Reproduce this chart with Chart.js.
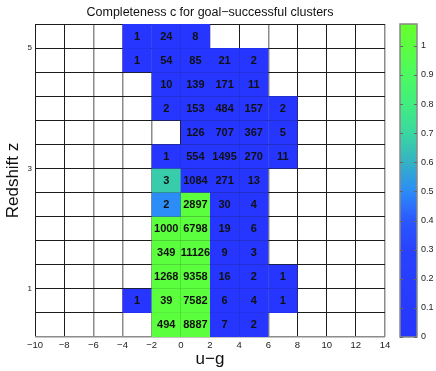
<!DOCTYPE html>
<html>
<head>
<meta charset="utf-8">
<script src="https://cdn.jsdelivr.net/npm/chart.js@4.4.1/dist/chart.umd.min.js"></script>
<style>
  html, body { margin: 0; padding: 0; background: #fff; }
  #wrap { position: relative; width: 436px; height: 371px; }
</style>
</head>
<body>
<div id="wrap"><canvas id="chart" width="436" height="371"></canvas></div>
<script>
// bin edges
const uEdges = [-10, -8, -6, -4, -2, 0, 2, 4, 6, 8, 10, 12, 14];
const zEdges = [0.2, 0.6, 1.0, 1.4, 1.8, 2.2, 2.6, 3.0, 3.4, 3.8, 4.2, 4.6, 5.0, 5.4];
const zLabels = [1, 3, 5];
// left edges of the u-g columns that hold clusters
const uCols = [-4, -2, 0, 2, 4, 6];

// number of clusters per cell, rows from z=0.2 upward
const counts = [
  [null,  494,  8887,  7,   2,    null],
  [1,     39,   7582,  6,   4,    1],
  [null,  1268, 9358,  16,  2,    1],
  [null,  349,  11126, 9,   3,    null],
  [null,  1000, 6798,  19,  6,    null],
  [null,  2,    2897,  30,  4,    null],
  [null,  3,    1084,  271, 13,   null],
  [null,  1,    554,   1495, 270, 11],
  [null,  null, 126,   707, 367,  5],
  [null,  2,    153,   484, 157,  2],
  [null,  10,   139,   171, 11,   null],
  [1,     54,   85,    21,  2,    null],
  [1,     24,   8,     null, null, null]
];

// completeness c per cell
const completeness = [
  [null, 1,    1,    0,    0,    null],
  [0,    1,    1,    0,    0,    0],
  [null, 1,    1,    0,    0,    0],
  [null, 1,    1,    0,    0,    null],
  [null, 1,    1,    0,    0,    null],
  [null, 0.5,  1,    0,    0,    null],
  [null, 0.67, 0,    0,    0,    null],
  [null, 0,    0,    0,    0,    0],
  [null, null, 0,    0,    0,    0],
  [null, 0,    0,    0,    0,    0],
  [null, 0,    0,    0,    0,    null],
  [0,    0,    0,    0,    0,    null],
  [0,    0,    0,    null, null, null]
];

const cbMax = 1.075;

// colour map stops: value -> rgb
const cmapStops = [
  [0.0,  [38, 54, 255]],
  [0.3,  [40, 66, 255]],
  [0.4,  [42, 88, 255]],
  [0.5,  [44, 140, 248]],
  [0.6,  [52, 178, 196]],
  [0.7,  [58, 215, 160]],
  [0.8,  [64, 238, 126]],
  [0.9,  [76, 250, 96]],
  [1.0,  [92, 255, 62]],
  [1.08, [102, 255, 44]]
];

function colormap(v) {
  for (let i = 1; i < cmapStops.length; i++) {
    const [v1, c1] = cmapStops[i];
    const [v0, c0] = cmapStops[i - 1];
    if (v <= v1 || i === cmapStops.length - 1) {
      const t = Math.max(0, Math.min(1, (v - v0) / (v1 - v0)));
      const c = c0.map((a, k) => Math.round(a + (c1[k] - a) * t));
      return `rgb(${c[0]},${c[1]},${c[2]})`;
    }
  }
}

const FONT = "'Liberation Sans', Arial, sans-serif";
const minus = s => String(s).replace('-', '\u2212');
const grayU = [-6, -4, -2, 2, 6, 14];

const heatmap = {
  id: 'heatmap',
  beforeDatasetsDraw(chart) {
    const { ctx, scales: { x, y } } = chart;
    ctx.save();
    counts.forEach((row, r) => row.forEach((n, c) => {
      if (n === null) return;
      const x0 = x.getPixelForValue(uCols[c]);
      const x1 = x.getPixelForValue(uCols[c] + 2);
      const y0 = y.getPixelForValue(zEdges[r + 1]);
      const y1 = y.getPixelForValue(zEdges[r]);
      ctx.fillStyle = colormap(completeness[r][c]);
      ctx.fillRect(x0, y0, x1 - x0, y1 - y0);
    }));
    ctx.restore();
  },
  afterDraw(chart) {
    const { ctx, scales: { x, y, cb } } = chart;
    ctx.save();
    // cell numbers
    ctx.font = 'bold 11px ' + FONT;
    ctx.fillStyle = '#111';
    ctx.textAlign = 'center';
    ctx.textBaseline = 'middle';
    counts.forEach((row, r) => row.forEach((n, c) => {
      if (n === null) return;
      const cx = x.getPixelForValue(uCols[c] + 1);
      const cy = y.getPixelForValue((zEdges[r] + zEdges[r + 1]) / 2);
      ctx.fillText(n, cx, cy + 0.5);
    }));

    // colour bar
    const left = cb.left + 15, right = cb.left + 32;
    const top = cb.getPixelForValue(cbMax), bottom = cb.getPixelForValue(0);
    for (let py = Math.floor(top); py < bottom; py++) {
      ctx.fillStyle = colormap(cb.getValueForPixel(py + 0.5));
      ctx.fillRect(left, py, right - left, 1);
    }
    ctx.strokeStyle = '#888';
    ctx.lineWidth = 1.5;
    ctx.strokeRect(left, top, right - left, bottom - top);
    ctx.lineWidth = 1;
    ctx.strokeStyle = '#666';
    cb.ticks.forEach(t => {
      const py = Math.round(cb.getPixelForValue(t.value)) + 0.5;
      ctx.beginPath();
      ctx.moveTo(left, py); ctx.lineTo(left + 3, py);
      ctx.moveTo(right - 3, py); ctx.lineTo(right, py);
      ctx.stroke();
    });
    ctx.restore();
  }
};

new Chart(document.getElementById('chart'), {
  type: 'scatter',
  data: { datasets: [{ data: [] }] },
  options: {
    responsive: false,
    animation: false,
    devicePixelRatio: 1,
    layout: { padding: 0 },
    plugins: {
      legend: { display: false },
      tooltip: { enabled: false },
      title: {
        display: true,
        fullSize: false,
        text: 'Completeness c for goal\u2212successful clusters',
        color: '#111',
        font: { family: FONT, size: 12.5, weight: 'normal', lineHeight: 1.2 },
        padding: { top: 5, bottom: 4 }
      }
    },
    scales: {
      x: {
        type: 'linear',
        min: -10, max: 14,
        z: 1,
        border: { display: false },
        ticks: {
          stepSize: 2, padding: 3, color: '#222',
          font: { family: FONT, size: 9.5 },
          callback: v => minus(v)
        },
        grid: {
          drawTicks: false,
          color: c => grayU.includes(c.tick.value) ? '#8c8c8c' : '#1c1c1c',
          lineWidth: c => grayU.includes(c.tick.value) ? 1.5 : 1
        },
        title: {
          display: true, text: 'u\u2212g', color: '#111',
          font: { family: FONT, size: 17, lineHeight: 1.2 },
          padding: { top: 0, bottom: 1 }
        },
        afterFit: s => { s.height = 34; }
      },
      y: {
        type: 'linear',
        min: zEdges[0], max: zEdges[zEdges.length - 1],
        z: 1,
        border: { display: false },
        afterBuildTicks: s => { s.ticks = zEdges.map(v => ({ value: v })); },
        ticks: {
          padding: 3, color: '#222', autoSkip: false,
          font: { family: FONT, size: 8 },
          callback: v => zLabels.find(z => Math.abs(z - v) < 1e-6) ?? ''
        },
        grid: {
          drawTicks: false,
          color: c => c.index === 0 ? '#8c8c8c' : '#1c1c1c',
          lineWidth: c => c.index === 0 ? 1.5 : 1
        },
        title: {
          display: true, text: 'Redshift z', color: '#111',
          font: { family: FONT, size: 17, lineHeight: 1.2 },
          padding: { top: 3, bottom: 0 }
        },
        afterFit: s => { s.width = 35; }
      },
      cb: {
        type: 'linear',
        axis: 'y',
        position: 'right',
        min: 0, max: cbMax,
        border: { display: false },
        grid: { display: false, drawTicks: true, tickLength: 33 },
        ticks: {
          stepSize: 0.1, includeBounds: false, padding: 3, color: '#222',
          font: { family: FONT, size: 9 },
          callback: v => String(Math.round(v * 10) / 10)
        },
        afterFit: s => { s.width = 51; }
      }
    }
  },
  plugins: [heatmap]
});
</script>
</body>
</html>
